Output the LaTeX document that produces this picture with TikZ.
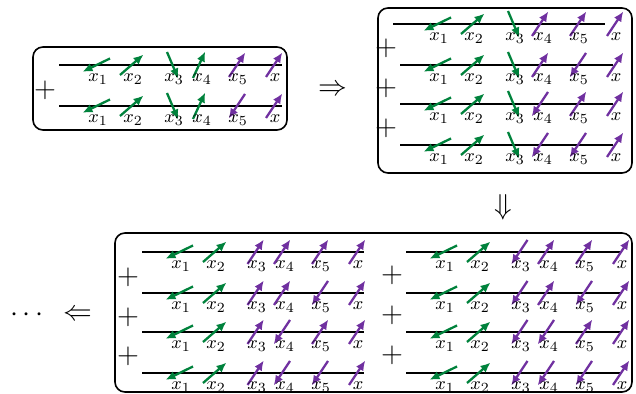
\documentclass[tikz,border=0pt]{standalone}
\usetikzlibrary{arrows.meta}
\definecolor{fgreen}{RGB}{0,130,60}
\definecolor{fpurple}{RGB}{112,48,160}
\tikzset{
  tipstyle/.style={-{Latex[length=5pt,width=4.4pt]}},
  garrow/.style={draw=fgreen, line width=1.15pt, tipstyle},
  parrow/.style={draw=fpurple, line width=1.15pt, tipstyle},
  rowline/.style={line width=0.7pt},
  lbl/.style={font=\fontsize{9.5}{11}\selectfont, anchor=base, inner sep=0pt},
  sym/.style={font=\fontsize{14}{17}\selectfont, inner sep=0pt},
  frame/.style={rounded corners=5pt, line width=0.8pt},
  gdl/.pic={\draw[garrow] (13.5,-6.5) -- (-14,6.8);},
  gur/.pic={\draw[garrow] (-11.5,10) -- (12,-10.4);},
  gd/.pic={\draw[garrow] (-5.5,-13) -- (5.7,13.5);},
  gu/.pic={\draw[garrow] (-6,13) -- (6.2,-13.5);},
  pu/.pic={\draw[parrow] (-8,12) -- (8.3,-12.5);},
  pd/.pic={\draw[parrow] (8,-12) -- (-8.3,12.5);},
}
% #1 name, #2 x0, #3 y, #4 line start, #5 line end, #6 x3 type, #7 x4 type, #8 x5 type
\newcommand\fxrow[8]{%
  \draw[rowline] (#4,#3) -- (#5,#3);
  \pic at (#2+37.5,#3) {gdl};
  \pic at (#2+72.5,#3) {gur};
  \pic at (#2+113.5,#3) {#6};
  \pic at (#2+140,#3) {#7};
  \pic at (#2+178,#3) {#8};
  \pic at (#2+215,#3) {pu};
  \node[lbl] (#1l1) at (#2+39,#3+17) {$x_1$};
  \node[lbl] (#1l2) at (#2+74,#3+17) {$x_2$};
  \node[lbl] (#1l3) at (#2+115,#3+17) {$x_3$};
  \node[lbl] (#1l4) at (#2+143,#3+17) {$x_4$};
  \node[lbl] (#1l5) at (#2+179,#3+17) {$x_5$};
  \node[lbl] (#1l6) at (#2+216,#3+17) {$x$};
}
\begin{document}
\begin{tikzpicture}[x=0.5pt,y=-0.5pt]
\useasboundingbox (0,0) rectangle (636,394);
% box 1
\draw[frame] (33,47) rectangle (287,130);
\fxrow{a1}{59}{65}{59}{282}{gd}{gu}{pu}
\fxrow{a2}{59}{106}{59}{282}{gd}{gu}{pd}
\node[sym] (pa1) at (45,90) {$+$};
% arrow right
\node[sym] (imp1) at (332.5,90) {$\Rightarrow$};
% box 2
\draw[frame] (378,8) rectangle (632,173);
\fxrow{b1}{400}{24}{393}{605}{gd}{pu}{pu}
\fxrow{b2}{400}{65}{400}{613}{gd}{pu}{pd}
\fxrow{b3}{400}{104}{400}{613}{gd}{pd}{pu}
\fxrow{b4}{400}{145}{400}{613}{gd}{pd}{pd}
\node[sym] (pb1) at (386,48) {$+$};
\node[sym] (pb2) at (386,88) {$+$};
\node[sym] (pb3) at (386,128) {$+$};
% arrow down
\node[sym] (imp2) at (503,207) {$\Downarrow$};
% box 3
\draw[frame] (115,233) rectangle (632,392);
\fxrow{c1}{142}{252}{142}{364}{pu}{pu}{pu}
\fxrow{c2}{142}{293}{142}{364}{pu}{pu}{pd}
\fxrow{c3}{142}{332}{142}{364}{pu}{pd}{pu}
\fxrow{c4}{142}{373}{142}{364}{pu}{pd}{pd}
\node[sym] (pc1) at (128,277) {$+$};
\node[sym] (pc2) at (128,317) {$+$};
\node[sym] (pc3) at (128,356) {$+$};
\fxrow{d1}{406}{252}{406}{620}{pd}{pu}{pu}
\fxrow{d2}{406}{293}{406}{620}{pd}{pu}{pd}
\fxrow{d3}{406}{332}{406}{620}{pd}{pd}{pu}
\fxrow{d4}{406}{373}{406}{620}{pd}{pd}{pd}
\node[sym] (pd1) at (392,275) {$+$};
\node[sym] (pd2) at (392,315) {$+$};
\node[sym] (pd3) at (392,355) {$+$};
% left arrow and dots
\node[sym] (imp3) at (77.5,315) {$\Leftarrow$};
\node[sym] (dots) at (27,315) {$\cdots$};
\end{tikzpicture}
\end{document}
